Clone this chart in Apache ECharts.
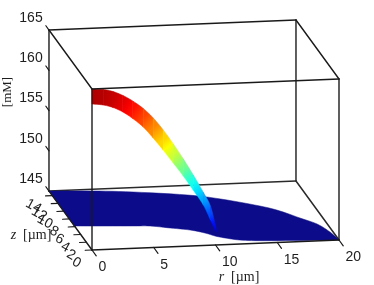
<!DOCTYPE html>
<html><head><meta charset="utf-8">
<style>html,body{margin:0;padding:0;background:#fff}#c{width:374px;height:285px}</style>
<script src="https://cdn.jsdelivr.net/npm/echarts@6/dist/echarts.min.js"></script>
</head><body><div id="c"></div>
<script>
// ---- data ----
const rTicks = [0, 5, 10, 15, 20];
const zTicks = [0, 2, 4, 6, 8, 10, 12, 14];
const cTicks = [145, 150, 155, 160, 165];
const rMax = 20, zMax = 15.2, cMin = 145, cMax = 165;

// concentration ribbon at z = 0
const ribbonR    = [0, 0.9, 1.7, 2.5, 3.3, 4.15, 4.96, 5.77, 6.59, 7.4, 8.2, 9.02, 9.6, 10.08];
const ribbonCTop = [165, 164.88, 164.58, 164.04, 163.3, 162.32, 161.09, 159.55, 157.76, 155.84, 153.81, 151.58, 149.81, 146.86];
const ribbonCBot = [163.14, 162.96, 162.6, 161.99, 161.13, 160.02, 158.6, 157.06, 155.4, 153.73, 151.94, 150.03, 148.13, 146.61];

// footprint at c = 145: outer edge then inner edge
const outerR = [0, 3.4, 6.58, 10.67, 13.05, 15.73, 17.02, 18.19, 19.19, 19.75, 20];
const outerZ = [15.2, 14.78, 14.1, 12.8, 11.46, 9.31, 7.86, 5.9, 4.23, 2.09, 0];
const innerR = [20, 16.9, 13.74, 12.2, 11.15, 10.48, 9.86, 8.86, 7.4, 5.94, 4.62, 1.38, 0];
const innerZ = [0, 0.27, 0.63, 1.0, 1.66, 2.26, 3.11, 4.01, 4.72, 5.42, 5.6, 6.0, 6.2];

const rLabel = 'r', zLabel = 'z', unitLabel = '[µm]', cLabel = '[mM]';

// ---- oblique view ----
function project(r, z, c) {
  return [92 + 12.35 * r - 2.83 * z, 250 - 0.5 * r - 3.88 * z - 8.05 * (c - cMin)];
}
function jet(c) {
  const t = (c - cMin) / (cMax - cMin);
  const f = v => Math.round(255 * Math.max(0, Math.min(1, v)));
  return 'rgb(' + f(1.5 - Math.abs(4 * t - 3)) + ',' + f(1.5 - Math.abs(4 * t - 2)) + ',' + f(1.5 - Math.abs(4 * t - 1)) + ')';
}
const LINE = '#1a1a1a';
const FONT = '14px "Liberation Sans"';
const INK = '#1e1e1e';

function pt(api, r, z, c) { return api.coord(project(r, z, c)); }

// rounds a drawn outline through its screen vertices (drawing only, no new data)
function curve(pts) {
  const out = [];
  for (let i = 0; i < pts.length - 1; i++) {
    const p0 = pts[Math.max(i - 1, 0)], p1 = pts[i], p2 = pts[i + 1], p3 = pts[Math.min(i + 2, pts.length - 1)];
    for (let k = 0; k < 6; k++) {
      const t = k / 6, t2 = t * t, t3 = t2 * t;
      out.push([0, 1].map(d => 0.5 * (2 * p1[d] + (p2[d] - p0[d]) * t +
        (2 * p0[d] - 5 * p1[d] + 4 * p2[d] - p3[d]) * t2 + (3 * p1[d] - p0[d] - 3 * p2[d] + p3[d]) * t3)));
    }
  }
  out.push(pts[pts.length - 1]);
  return out;
}

function edgeSeries(name, edges, width, color) {
  return {
    type: 'custom', name, coordinateSystem: 'cartesian2d', silent: true,
    data: edges, clip: false,
    renderItem(params, api) {
      const a = pt(api, api.value(0), api.value(1), api.value(2));
      const b = pt(api, api.value(3), api.value(4), api.value(5));
      return { type: 'line', shape: { x1: a[0], y1: a[1], x2: b[0], y2: b[1] },
        style: { stroke: color, lineWidth: width, lineCap: 'round' } };
    }
  };
}
const backEdges = [
  [0, zMax, cMin, 0, zMax, cMax],
  [rMax, zMax, cMin, rMax, zMax, cMax],
  [0, zMax, cMin, rMax, zMax, cMin],
  [rMax, zMax, cMin, rMax, 0, cMin]
];
const frontEdges = [
  [0, zMax, cMax, rMax, zMax, cMax],
  [0, 0, cMax, rMax, 0, cMax],
  [0, 0, cMax, 0, zMax, cMax],
  [rMax, 0, cMax, rMax, zMax, cMax],
  [0, 0, cMin, 0, 0, cMax],
  [rMax, 0, cMin, rMax, 0, cMax],
  [0, 0, cMin, rMax, 0, cMin],
  [0, 0, cMin, 0, zMax, cMin]
];
const tickEdges = []
  .concat(rTicks.map(r => [r, 0, cMin, r, -1.5, cMin]))
  .concat(zTicks.map(z => [0, z, cMin, -0.55, z, cMin]))
  .concat(cTicks.map(c => [0, zMax, c, 0, zMax + 1.1, c]));

const footprintSeries = {
  type: 'custom', name: 'footprint', coordinateSystem: 'cartesian2d', silent: true,
  data: outerR.map((r, i) => [r, outerZ[i], cMin]).concat(innerR.map((r, i) => [r, innerZ[i], cMin])),
  renderItem(params, api) {
    if (params.dataIndex !== 0) return null;
    const nO = outerR.length, nI = innerR.length, o = [], n = [];
    for (let i = 0; i < nO; i++) o.push(pt(api, api.value(0, i), api.value(1, i), api.value(2, i)));
    for (let i = nO; i < nO + nI; i++) n.push(pt(api, api.value(0, i), api.value(1, i), api.value(2, i)));
    return { type: 'polygon', shape: { points: curve(o).concat(curve(n)) },
      style: { fill: '#0c0c8a', stroke: '#0c0c8a', lineWidth: 0.5 } };
  }
};

const ribbonSeries = {
  type: 'custom', name: 'ribbon', coordinateSystem: 'cartesian2d', silent: true,
  data: ribbonR.map((r, i) => [r, ribbonCTop[i], ribbonCBot[i]]),
  renderItem(params, api) {
    const i = params.dataIndex, n = ribbonR.length;
    if (i >= n - 1) return null;
    const tops = [], bots = [];
    for (let j = 0; j < n; j++) {
      tops.push(pt(api, api.value(0, j), 0, api.value(1, j)));
      bots.push(pt(api, api.value(0, j), 0, api.value(2, j)));
    }
    const T = curve(tops), B = curve(bots), a = i * 6, b = a + 6;
    const points = T.slice(a, b + 1).concat(B.slice(a, b + 1).reverse());
    const m0 = (api.value(1, i) + api.value(2, i)) / 2, m1 = (api.value(1, i + 1) + api.value(2, i + 1)) / 2;
    const grad = new echarts.graphic.LinearGradient(
      (T[a][0] + B[a][0]) / 2, (T[a][1] + B[a][1]) / 2, (T[b][0] + B[b][0]) / 2, (T[b][1] + B[b][1]) / 2,
      [{ offset: 0, color: jet(m0) }, { offset: 0.5, color: jet((m0 + m1) / 2) }, { offset: 1, color: jet(m1) }],
      true);
    return { type: 'polygon', shape: { points }, style: { fill: grad, stroke: grad, lineWidth: 0.6 } };
  }
};

function labelSeries(name, values, toItem) {
  return {
    type: 'custom', name, coordinateSystem: 'cartesian2d', silent: true,
    data: values.map(v => [v]),
    renderItem(params, api) { return toItem(api, api.value(0)); }
  };
}
const rLabels = labelSeries('rLabels', rTicks, (api, r) => {
  const p = pt(api, r, 0, cMin);
  return { type: 'text', x: p[0] + 6.5, y: p[1] + 17.5,
    style: { text: String(r), font: FONT, fill: INK, align: 'left', verticalAlign: 'middle' } };
});
const cLabels = labelSeries('cLabels', cTicks, (api, c) => {
  const p = pt(api, 0, zMax, c);
  return { type: 'text', x: p[0] - 18, y: p[1] - 12,
    style: { text: String(c), font: FONT, fill: INK, align: 'center', verticalAlign: 'middle' } };
});
const zLabels = labelSeries('zLabels', zTicks, (api, z) => {
  const p = pt(api, 0, z, cMin);
  return { type: 'text', x: p[0] - 12, y: p[1] + 14.5, rotation: -0.5,
    style: { text: String(z), font: FONT, fill: INK, align: 'right', verticalAlign: 'middle' } };
});

const SERIF = '"Liberation Serif"';
const titleSeries = {
  type: 'custom', name: 'titles', coordinateSystem: 'cartesian2d', silent: true,
  data: [[239, 277, 0], [31, 235, 1], [8, 92, 2]],
  renderItem(params, api) {
    const p = api.coord([api.value(0), api.value(1)]), k = api.value(2);
    if (k === 2) return { type: 'text', x: p[0], y: p[1], rotation: Math.PI / 2,
      style: { text: cLabel, font: '13px ' + SERIF, fill: INK, align: 'center', verticalAlign: 'middle' } };
    const italic = k === 0 ? rLabel : zLabel;
    return { type: 'text', x: p[0], y: p[1],
      style: { text: '{i|' + italic + '}  ' + unitLabel, font: '14px ' + SERIF, fill: INK, align: 'center', verticalAlign: 'middle',
        rich: { i: { font: 'italic 14px ' + SERIF, fill: INK } } } };
  }
};

const chart = echarts.init(document.getElementById('c'), null, { renderer: 'canvas', width: 374, height: 285 });
chart.setOption({
  animation: false,
  backgroundColor: '#fff',
  grid: { left: 0, right: 0, top: 0, bottom: 0 },
  xAxis: { type: 'value', min: 0, max: 374, show: false },
  yAxis: { type: 'value', min: 0, max: 285, inverse: true, show: false },
  series: [
    edgeSeries('backEdges', backEdges, 1.5, '#2a2a2a'),
    footprintSeries,
    ribbonSeries,
    edgeSeries('frontEdges', frontEdges, 1.4, LINE),
    edgeSeries('ticks', tickEdges, 1.2, LINE),
    rLabels, cLabels, zLabels, titleSeries
  ]
});
</script></body></html>
